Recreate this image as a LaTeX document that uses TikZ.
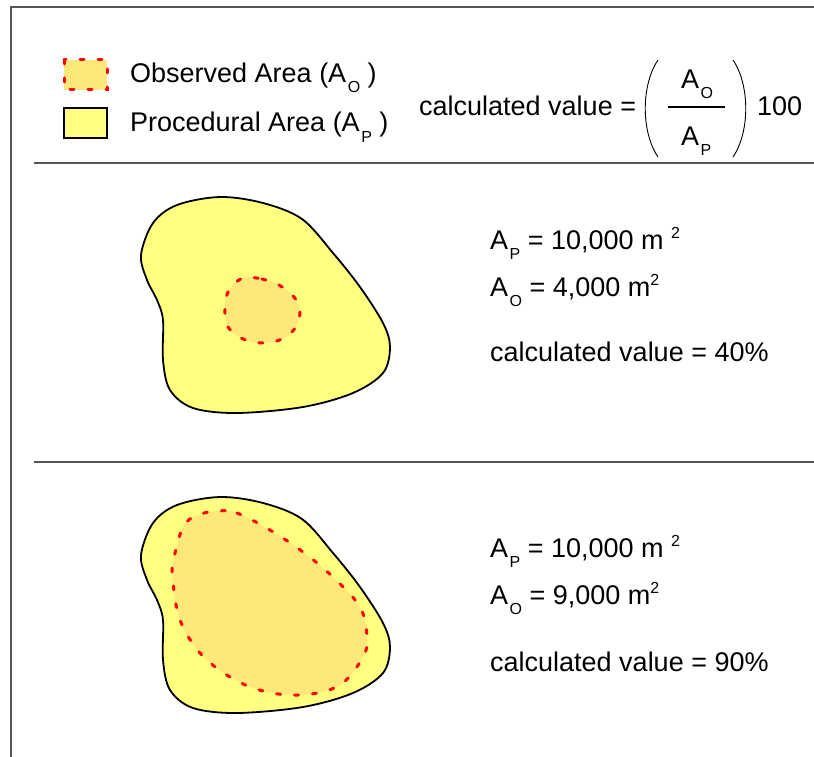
\documentclass[tikz,border=0pt]{standalone}
\usepackage{fontspec}
\setmainfont{Liberation Sans}
\definecolor{procfill}{RGB}{255,255,128}
\definecolor{obsfill}{RGB}{255,232,122}
\definecolor{framegray}{RGB}{85,85,85}
\newcommand{\sbs}[1]{\hspace{1.5pt}\raisebox{-10pt}{\fontsize{16}{16}\selectfont #1}}
\newcommand{\sps}[1]{\raisebox{11pt}{\fontsize{16}{16}\selectfont #1}}
\begin{document}
\begin{tikzpicture}[x=1pt,y=-1pt,
  txt/.style={inner sep=0pt, anchor=base west, font=\fontsize{27}{32}\selectfont},
  obs/.style={fill=obsfill, draw=red, line width=3pt, dash pattern=on 4pt off 14pt, line cap=round},
  proc/.style={fill=procfill, draw=black, line width=1.8pt},
  rulel/.style={draw=framegray, line width=1.8pt},
  paren/.style={draw=black, line width=0.9pt}]
\useasboundingbox (0,0) rectangle (814,757);
% frame and separators
\draw[rulel] (11,757) -- (11,7) -- (814,7);
\draw[rulel] (34,163) -- (814,163);
\draw[rulel] (34,462) -- (814,462);
% legend
\path[obs] (64,60) rectangle (107,90);
\path[proc] (64,108) rectangle (107,138);
\node[txt] (lobs) at (130,83) {Observed Area (A\sbs{O} )};
\node[txt] (lproc) at (130,132) {Procedural Area (A\sbs{P} )};
% formula
\node[txt] (calc) at (419,116) {calculated value =};
\draw[paren] (658,60) .. controls (641,85) and (641,132) .. (658,157);
\draw[paren] (733,60) .. controls (750,85) and (750,132) .. (733,157);
\node[txt] (fnum) at (681,89) {A\sbs{O}};
\node[txt] (fden) at (681,146) {A\sbs{P}};
\draw[black, line width=1.2pt] (668,107) -- (725,107);
\node[txt] (hundred) at (757,116) {100};
% shapes
\foreach \dy/\nm in {0/one,300/two}{
\begin{scope}[shift={(0,\dy)}]
\path[proc] plot[smooth cycle, tension=0.55] coordinates {
 (220,197) (263,203) (302,219) (333,253) (360,287) (383,323) (390,347)
 (383,373) (353,393) (303,407) (237,413) (193,408) (170,390) (163,360)
 (163,320) (157,300) (147,280) (141,255) (153,223) (177,205)};
\end{scope}}
\path[obs] plot[smooth cycle, tension=0.6] coordinates {
 (243,278) (262,279) (279,285) (294,297) (300,310) (296,327) (282,339)
 (263,343) (243,339) (228,327) (225,308) (229,290)};
\path[obs] plot[smooth cycle, tension=0.6] coordinates {
 (218,511) (237,513) (270,530) (303,552) (333,577) (360,607) (367,637)
 (363,657) (340,685) (302,695) (263,691) (230,677) (200,653) (180,620)
 (173,583) (173,563) (183,527) (198,515)};
% values
\node[txt] (ap1) at (490,249) {A\sbs{P} = 10,000 m \sps{2}};
\node[txt] (ao1) at (490,296) {A\sbs{O} = 4,000 m\sps{2}};
\node[txt] (cv1) at (490,361) {calculated value = 40\%};
\node[txt] (ap2) at (490,557) {A\sbs{P} = 10,000 m \sps{2}};
\node[txt] (ao2) at (490,604) {A\sbs{O} = 9,000 m\sps{2}};
\node[txt] (cv2) at (490,671) {calculated value = 90\%};
\end{tikzpicture}
\end{document}
